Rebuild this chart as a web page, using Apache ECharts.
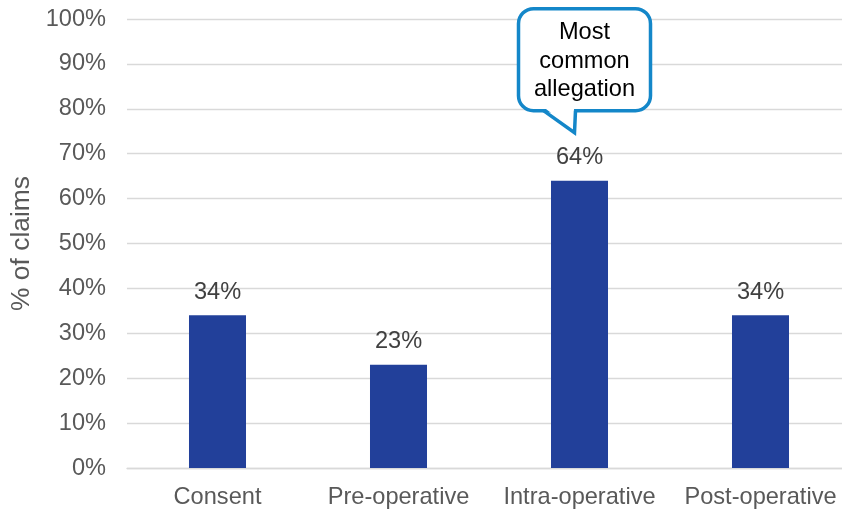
<!DOCTYPE html>
<html>
<head>
<meta charset="utf-8">
<script src="https://cdn.jsdelivr.net/npm/echarts@6/dist/echarts.min.js"></script>
<style>
  html, body { margin: 0; padding: 0; background: #ffffff; overflow: hidden; }
  /* the plot area runs a few pixels past the right edge of the page */
  #chart { width: 851px; height: 509px; }
</style>
</head>
<body>
<div id="chart"></div>
<script>
// Claim allegations by phase of care
const categories = ['Consent', 'Pre-operative', 'Intra-operative', 'Post-operative'];
const claimShares = [34, 23, 64, 34];
const axisMin = 0;
const axisMax = 100;
const axisStep = 10;
const axisTitle = '% of claims';

// Speech-bubble note pointing at one bar
const calloutCategory = 'Intra-operative';
const calloutLines = ['Most', 'common', 'allegation'];

const FONT = "'Liberation Sans', Arial, Helvetica, sans-serif";
const BAR_COLOR = '#22409A';
const GRID_COLOR = '#D9D9D9';
const BUBBLE_COLOR = '#1487C9';

const chart = echarts.init(document.getElementById('chart'), null, { renderer: 'canvas' });

chart.setOption({
  animation: false,
  backgroundColor: '#ffffff',
  grid: { left: 127, right: 0, top: 19, bottom: 41, containLabel: false },
  xAxis: {
    type: 'category',
    data: categories,
    axisLine: { show: true, lineStyle: { color: GRID_COLOR, width: 1.3 } },
    axisTick: { show: false },
    axisLabel: { color: '#595959', fontFamily: FONT, fontSize: 23.6, margin: 17, interval: 0 }
  },
  yAxis: {
    type: 'value',
    min: axisMin,
    max: axisMax,
    interval: axisStep,
    name: axisTitle,
    nameLocation: 'middle',
    nameGap: 88,
    nameRotate: 90,
    nameTextStyle: { color: '#595959', fontFamily: FONT, fontSize: 26.4 },
    axisLine: { show: false },
    axisTick: { show: false },
    splitLine: { show: true, lineStyle: { color: GRID_COLOR, width: 1.3 } },
    axisLabel: { color: '#595959', fontFamily: FONT, fontSize: 23.6, margin: 21, formatter: '{value}%' }
  },
  series: [{
    type: 'bar',
    data: claimShares,
    barWidth: '31.5%',
    itemStyle: { color: BAR_COLOR },
    label: {
      show: true,
      position: 'top',
      distance: 11,
      color: '#404040',
      fontFamily: FONT,
      fontSize: 23.6,
      formatter: p => p.value + '%'
    }
  }]
});

// Place the bubble relative to the top of its bar
const calloutIdx = categories.indexOf(calloutCategory);
const barTop = chart.convertToPixel({ seriesIndex: 0 }, [calloutIdx, claimShares[calloutIdx]]);
const tx = barTop[0] - 5;          // tail tip
const ty = barTop[1] - 48;
const L = tx - 56, R = tx + 76, T = ty - 124, B = ty - 22;
const baseL = tx - 31, baseR = tx + 1;

chart.setOption({
  graphic: [
    {
      type: 'rect', z: 100,
      shape: { x: L, y: T, width: R - L, height: B - T, r: 15 },
      style: { fill: '#ffffff', stroke: BUBBLE_COLOR, lineWidth: 3.5 }
    },
    {
      type: 'polygon', z: 101,
      shape: { points: [[baseL + 1.5, B - 2.5], [baseR - 1.5, B - 2.5], [tx, ty - 2]] },
      style: { fill: '#ffffff', stroke: null }
    },
    {
      type: 'polyline', z: 102,
      shape: { points: [[baseL, B], [tx, ty], [baseR, B]] },
      style: { stroke: BUBBLE_COLOR, lineWidth: 3.5, fill: null, lineJoin: 'miter' }
    },
    {
      type: 'text', z: 103,
      x: (L + R) / 2, y: (T + B) / 2 + 1.5,
      style: {
        text: calloutLines.join('\n'),
        align: 'center',
        verticalAlign: 'middle',
        fill: '#000000',
        font: '23.6px ' + FONT,
        lineHeight: 28.5
      }
    }
  ]
});
</script>
</body>
</html>
